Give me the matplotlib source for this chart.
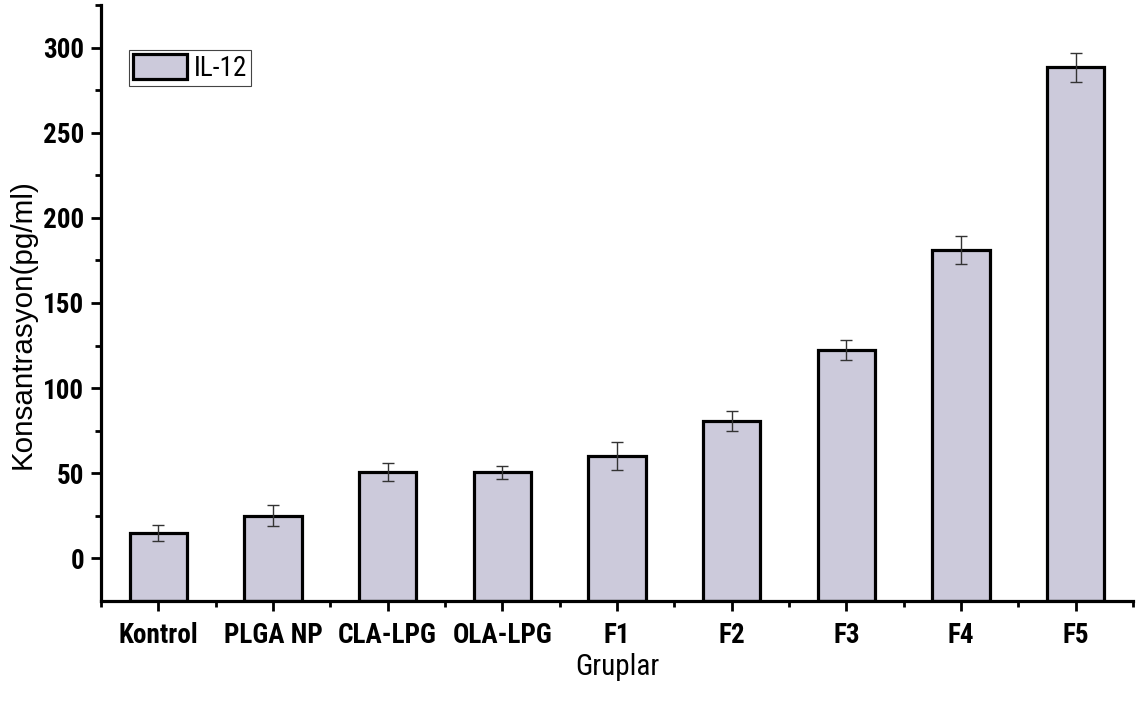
import matplotlib
matplotlib.use("Agg")
import matplotlib.pyplot as plt
from matplotlib import font_manager

# Data
groups = ["Kontrol", "PLGA NP", "CLA-LPG", "OLA-LPG", "F1", "F2", "F3", "F4", "F5"]
il12 = [15.2, 25.2, 50.6, 50.6, 60.2, 80.5, 122.5, 181.0, 288.4]
il12_err = [4.7, 6.0, 5.4, 3.8, 8.0, 5.8, 5.8, 8.3, 8.6]

Y_MIN, Y_MAX = -25, 325

# Pick a condensed face for the tick labels if one is installed
fonts = font_manager.fontManager.ttflist
names = {f.name for f in fonts}
if "Liberation Sans Narrow" in names:
    narrow, stretch, tick_size, lab_size, leg_size = "Liberation Sans Narrow", "normal", 18.5, 20, 18.5
elif "Roboto Condensed" in names:
    narrow, stretch, tick_size, lab_size, leg_size = "Roboto Condensed", "normal", 19.5, 21, 19.5
elif any(f.name == "DejaVu Sans" and f.stretch == "condensed" for f in fonts):
    narrow, stretch, tick_size, lab_size, leg_size = "DejaVu Sans", "condensed", 15, 17, 15
else:
    narrow, stretch, tick_size, lab_size, leg_size = "Liberation Sans", "normal", 15, 17, 15
regular = "Liberation Sans" if "Liberation Sans" in names else "DejaVu Sans"

fig = plt.figure(figsize=(11.39, 7.10), dpi=100)
ax = fig.add_axes([0.0887, 0.1535, 0.906, 0.8395])

x = list(range(1, len(groups) + 1))
heights = [v - Y_MIN for v in il12]
ax.bar(x, heights, bottom=Y_MIN, width=0.5, color="#CCCADB",
       edgecolor="black", linewidth=2.3, label="IL-12", zorder=2)
ax.errorbar(x, il12, yerr=il12_err, fmt="none", ecolor="#333333",
            elinewidth=1.0, capsize=4, capthick=1.0, zorder=3)

ax.set_xlim(0.5, 9.5)
ax.set_ylim(Y_MIN, Y_MAX)

ax.spines["top"].set_visible(False)
ax.spines["right"].set_visible(False)
ax.spines["left"].set_linewidth(2.3)
ax.spines["bottom"].set_linewidth(2.3)

ax.set_xticks(x)
ax.set_xticklabels(groups)
ax.set_xticks([i + 0.5 for i in range(0, len(groups) + 1)], minor=True)
ax.set_yticks([0, 50, 100, 150, 200, 250, 300])
ax.set_yticks([25, 75, 125, 175, 225, 275, 325], minor=True)

ax.tick_params(axis="both", which="major", direction="out", length=7,
               width=2.0, pad=5)
ax.tick_params(axis="both", which="minor", direction="out", length=4,
               width=2.0)
ax.tick_params(axis="x", which="major", pad=8)

for lab in ax.get_xticklabels() + ax.get_yticklabels():
    lab.set_fontfamily(narrow)
    lab.set_fontstretch(stretch)
    lab.set_fontweight("bold")
    lab.set_fontsize(tick_size)

ax.set_xlabel("Gruplar", fontfamily=narrow, fontstretch=stretch,
              fontsize=lab_size)
ax.set_ylabel("Konsantrasyon(pg/ml)", fontfamily=regular, fontsize=21.3)
ax.xaxis.set_label_coords(0.5, -0.087)
ax.yaxis.set_label_coords(-0.062, 0.464)

leg = ax.legend(loc="upper left", bbox_to_anchor=(0.027, 0.925),
                prop={"family": narrow, "stretch": stretch, "size": leg_size},
                handlelength=2.0, handleheight=1.05, handletextpad=0.25,
                borderpad=0.15, borderaxespad=0, fancybox=False,
                framealpha=1, edgecolor="#444444")
leg.get_frame().set_linewidth(0.8)

fig.savefig("out.png", dpi=100)
